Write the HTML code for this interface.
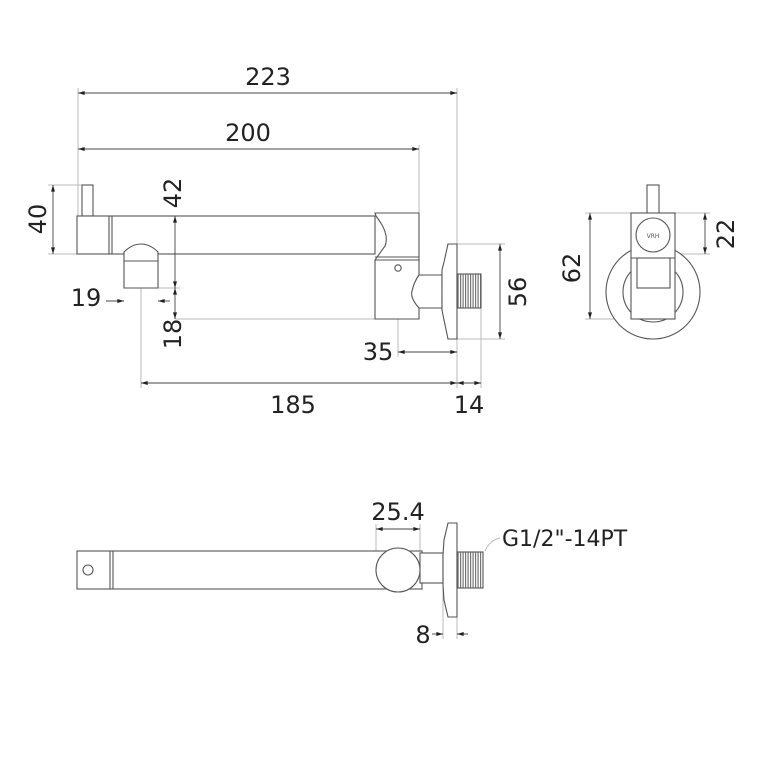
<!DOCTYPE html>
<html><head><meta charset="utf-8"><style>
html,body{margin:0;padding:0;background:#fff;}
svg{display:block;}
text{font-family:"DejaVu Sans","Liberation Sans",sans-serif;fill:#222;}
</style></head><body>
<svg width="768" height="768" viewBox="0 0 768 768" xmlns="http://www.w3.org/2000/svg">
<defs>
<marker id="a" viewBox="0 0 10 6" refX="10" refY="3" markerWidth="7" markerHeight="4" orient="auto-start-reverse" markerUnits="userSpaceOnUse"><path d="M0,0 L10,3 L0,6 z" fill="#222"/></marker>
<pattern id="th" width="2.5" height="4" patternUnits="userSpaceOnUse"><rect width="2.5" height="4" fill="#fff"/><rect width="1.2" height="4" fill="#777"/></pattern>
</defs>
<g fill="none" stroke="#bbb" stroke-width="1">
<line x1="78" y1="88" x2="78" y2="216"/>
<line x1="457" y1="88" x2="457" y2="388"/>
<line x1="419" y1="145" x2="419" y2="213"/>
<line x1="48" y1="185" x2="82" y2="185"/>
<line x1="48" y1="254" x2="77" y2="254"/>
<line x1="157" y1="216" x2="180" y2="216"/>
<line x1="157" y1="288" x2="180" y2="288"/>
<line x1="175" y1="319" x2="375" y2="319"/>
<line x1="398" y1="319" x2="398" y2="357"/>
<line x1="141" y1="288" x2="141" y2="388"/>
<line x1="481" y1="308" x2="481" y2="388"/>
<line x1="457" y1="244" x2="505" y2="244"/>
<line x1="457" y1="339" x2="505" y2="339"/>
<line x1="585" y1="213" x2="631" y2="213"/>
<line x1="585" y1="319" x2="631" y2="319"/>
<line x1="675" y1="213" x2="710" y2="213"/>
<line x1="675" y1="254" x2="710" y2="254"/>
<line x1="376" y1="524" x2="376" y2="551"/>
<line x1="420" y1="524" x2="420" y2="553"/>
<line x1="443" y1="583" x2="443" y2="639"/>
<line x1="457" y1="617" x2="457" y2="639"/>
<path d="M485 551 Q490 540 500 538"/>
</g>
<!-- front view -->
<g fill="#fff" stroke="#555" stroke-width="1.1">
<rect x="82" y="185" width="11" height="31"/>
<rect x="77" y="216" width="298" height="38"/>
<line x1="109" y1="216" x2="109" y2="254"/>
<line x1="112" y1="216" x2="112" y2="254"/>
<path d="M124 288 L124 252 Q132 244 141 244 Q150 244 158 252 L158 288 Z"/>
<line x1="124" y1="261" x2="158" y2="261"/>
<path d="M375 213 L419 213 L419 319 L375 319 L375 260 L385 246 Q390 234 376 216 Z"/>
<line x1="375" y1="257" x2="419" y2="257"/>
<line x1="375" y1="260" x2="419" y2="260"/>
<circle cx="398" cy="268" r="3.2"/>
<path d="M419 275 L442 275 L442 308 L419 308 Q410 298 412 291 Q414 282 419 275 Z"/>
<path d="M448 244 L457 244 L457 339 L448 339 L444 320 L442 310 L442 270 L444 262 Z"/>
<rect x="457" y="274" width="24" height="34" fill="url(#th)"/>
</g>
<!-- side view -->
<g fill="#fff" stroke="#555" stroke-width="1.1">
<circle cx="653" cy="292" r="47"/>
<circle cx="653" cy="292" r="30"/>
<rect x="647" y="185" width="12" height="30"/>
<rect x="631" y="213" width="44" height="106"/>
<line x1="631" y1="258" x2="675" y2="258"/>
<rect x="637" y="258" width="33" height="30"/>
<circle cx="653" cy="235" r="17"/>
</g>
<text x="653" y="238" font-size="6" text-anchor="middle" style="fill:#555">VRH</text>
<!-- bottom view -->
<g fill="#fff" stroke="#555" stroke-width="1.1">
<rect x="77" y="551" width="345" height="38"/>
<line x1="110" y1="551" x2="110" y2="589"/>
<line x1="113" y1="551" x2="113" y2="589"/>
<circle cx="88" cy="570" r="5"/>
<rect x="420" y="553" width="23" height="30"/>
<circle cx="398" cy="570" r="22"/>
<path d="M448 523 L457 523 L457 617 L448 617 L444 600 L443 585 L443 555 L444 540 Z"/>
<rect x="457" y="552" width="26" height="36" fill="url(#th)"/>
</g>
<g fill="none" stroke="#444" stroke-width="0.9">
<line x1="78" y1="93" x2="457" y2="93" marker-start="url(#a)" marker-end="url(#a)"/>
<line x1="78" y1="149" x2="419" y2="149" marker-start="url(#a)" marker-end="url(#a)"/>
<line x1="53" y1="185" x2="53" y2="254" marker-start="url(#a)" marker-end="url(#a)"/>
<line x1="175" y1="216" x2="175" y2="288" marker-start="url(#a)" marker-end="url(#a)"/>
<line x1="175" y1="288" x2="175" y2="319" marker-start="url(#a)" marker-end="url(#a)"/>
<line x1="106" y1="301" x2="124" y2="301" marker-end="url(#a)"/>
<line x1="170" y1="301" x2="158" y2="301" marker-end="url(#a)"/>
<line x1="398" y1="352" x2="457" y2="352" marker-start="url(#a)" marker-end="url(#a)"/>
<line x1="141" y1="383" x2="457" y2="383" marker-start="url(#a)" marker-end="url(#a)"/>
<line x1="457" y1="383" x2="481" y2="383" marker-start="url(#a)" marker-end="url(#a)"/>
<line x1="500" y1="244" x2="500" y2="339" marker-start="url(#a)" marker-end="url(#a)"/>
<line x1="590" y1="213" x2="590" y2="319" marker-start="url(#a)" marker-end="url(#a)"/>
<line x1="705" y1="213" x2="705" y2="254" marker-start="url(#a)" marker-end="url(#a)"/>
<line x1="376" y1="529" x2="420" y2="529" marker-start="url(#a)" marker-end="url(#a)"/>
<line x1="432" y1="634" x2="443" y2="634" marker-end="url(#a)"/>
<line x1="468" y1="634" x2="457" y2="634" marker-end="url(#a)"/>
</g>
<g font-size="24">
<text x="268" y="85" text-anchor="middle">223</text>
<text x="248" y="141" text-anchor="middle">200</text>
<text x="86" y="306" text-anchor="middle">19</text>
<text x="378" y="360" text-anchor="middle">35</text>
<text x="293" y="413" text-anchor="middle">185</text>
<text x="469" y="413" text-anchor="middle">14</text>
<text x="398" y="520" text-anchor="middle">25.4</text>
<text x="423" y="643" text-anchor="middle">8</text>
<text x="502" y="546" font-size="22">G1/2"-14PT</text>
<text transform="translate(46,219) rotate(-90)" text-anchor="middle">40</text>
<text transform="translate(181,193) rotate(-90)" text-anchor="middle">42</text>
<text transform="translate(181,334) rotate(-90)" text-anchor="middle">18</text>
<text transform="translate(526,292) rotate(-90)" text-anchor="middle">56</text>
<text transform="translate(580,268) rotate(-90)" text-anchor="middle">62</text>
<text transform="translate(734,234) rotate(-90)" text-anchor="middle">22</text>
</g>
</svg>
</body></html>
